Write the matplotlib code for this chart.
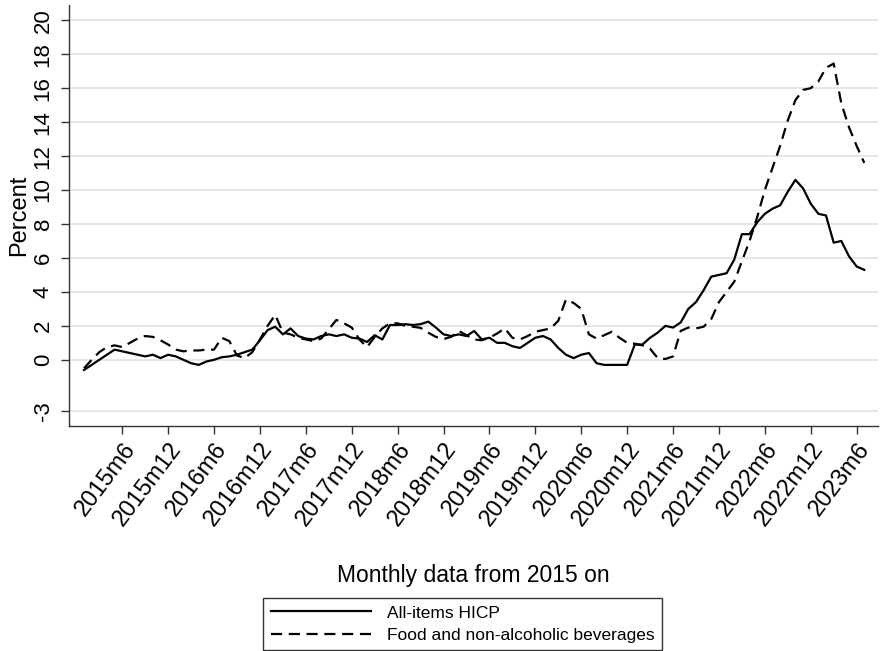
import numpy as np
import matplotlib.pyplot as plt

plt.rcParams['font.family'] = ['Liberation Sans', 'DejaVu Sans']

# annual rates, monthly from 2015m1 to 2023m7
hicp = [
    -0.6, -0.3, 0.0, 0.3, 0.6, 0.5, 0.4, 0.3, 0.2, 0.3, 0.1, 0.3,      # 2015
    0.2, 0.0, -0.2, -0.3, -0.1, 0.0, 0.15, 0.2, 0.3, 0.45, 0.6, 1.15,   # 2016
    1.75, 1.95, 1.5, 1.85, 1.4, 1.25, 1.2, 1.4, 1.5, 1.4, 1.5, 1.3,     # 2017
    1.25, 1.05, 1.45, 1.2, 2.05, 2.05, 2.1, 2.05, 2.1, 2.25, 1.9, 1.5,  # 2018
    1.4, 1.5, 1.4, 1.7, 1.2, 1.3, 1.0, 1.0, 0.8, 0.7, 1.0, 1.3,         # 2019
    1.4, 1.2, 0.7, 0.3, 0.1, 0.3, 0.4, -0.2, -0.3, -0.3, -0.3, -0.3,    # 2020
    0.9, 0.9, 1.3, 1.6, 2.0, 1.9, 2.2, 3.0, 3.4, 4.1, 4.9, 5.0,         # 2021
    5.1, 5.9, 7.4, 7.4, 8.1, 8.6, 8.9, 9.1, 9.9, 10.6, 10.1, 9.2,       # 2022
    8.6, 8.5, 6.9, 7.0, 6.1, 5.5, 5.3,                                  # 2023
]
food = [
    -0.5, 0.0, 0.45, 0.75, 0.85, 0.75, 1.0, 1.25, 1.4, 1.35, 1.15, 0.9,     # 2015
    0.6, 0.5, 0.55, 0.55, 0.6, 0.6, 1.3, 1.1, 0.25, 0.1, 0.45, 1.2,         # 2016
    2.0, 2.65, 1.6, 1.5, 1.3, 1.2, 1.1, 1.25, 1.8, 2.35, 2.15, 1.9,         # 2017
    1.2, 0.75, 1.35, 1.85, 2.15, 2.15, 2.0, 1.95, 1.88, 1.6, 1.35, 1.22,    # 2018
    1.35, 1.7, 1.45, 1.2, 1.15, 1.3, 1.55, 1.85, 1.3, 1.2, 1.4, 1.65,       # 2019
    1.75, 1.85, 2.3, 3.55, 3.35, 3.0, 1.5, 1.25, 1.45, 1.65, 1.3, 1.0,      # 2020
    0.95, 0.85, 0.65, 0.1, 0.05, 0.2, 1.7, 1.9, 1.85, 1.95, 2.4, 3.4,       # 2021
    4.0, 4.6, 5.8, 7.0, 8.4, 10.0, 11.3, 12.6, 14.1, 15.3, 15.9, 16.0,      # 2022
    16.4, 17.2, 17.45, 15.1, 13.7, 12.6, 11.6,                              # 2023
]
months = np.arange(len(hicp))

tick_labels = ['2015m6', '2015m12', '2016m6', '2016m12', '2017m6', '2017m12',
               '2018m6', '2018m12', '2019m6', '2019m12', '2020m6', '2020m12',
               '2021m6', '2021m12', '2022m6', '2022m12', '2023m6']
tick_pos = np.arange(5, 5 + 6 * len(tick_labels), 6)
y_ticks = [-3, 0, 2, 4, 6, 8, 10, 12, 14, 16, 18, 20]

fig = plt.figure(figsize=(8.87, 6.51), dpi=100)
ax = fig.add_axes([0.0778, 0.3456, 0.9121, 0.6467])

ax.plot(months, hicp, color='black', lw=1.6, label='All-items HICP')
ax.plot(months, food, color='black', lw=1.6, dashes=(5, 3),
        label='Food and non-alcoholic beverages')

ax.set_xlim(-1.96, 103.8)
ax.set_ylim(-3.9, 20.9)
ax.set_yticks(y_ticks)
ax.set_yticklabels([str(v) for v in y_ticks], rotation=90, va='center')
ax.set_xticks(tick_pos)
ax.set_xticklabels(tick_labels, rotation=53, ha='right', rotation_mode='anchor',
                   fontsize=17)
ax.tick_params(axis='both', length=6, width=1, color='#333333')
ax.tick_params(axis='y', labelsize=16, pad=5)
ax.tick_params(axis='x', pad=3)

ax.grid(axis='y', color='#e4e4e4', lw=1.3)
ax.set_axisbelow(True)
for side in ['top', 'right']:
    ax.spines[side].set_visible(False)
for side in ['left', 'bottom']:
    ax.spines[side].set_color('#333333')
    ax.spines[side].set_linewidth(1)

ax.set_ylabel('Percent', fontsize=17, labelpad=2)
ax.set_xlabel('Monthly data from 2015 on', fontsize=16.5, labelpad=24)

leg = ax.legend(loc='center', bbox_to_anchor=(0.5214, 0.0415),
                bbox_transform=fig.transFigure, fontsize=12.5, fancybox=False,
                frameon=True, handlelength=5.8, borderpad=0.45,
                labelspacing=0.4, handletextpad=0.9, borderaxespad=0)
leg.get_frame().set_edgecolor('black')
leg.get_frame().set_linewidth(1)

fig.savefig('out.png', dpi=100, facecolor='white')
